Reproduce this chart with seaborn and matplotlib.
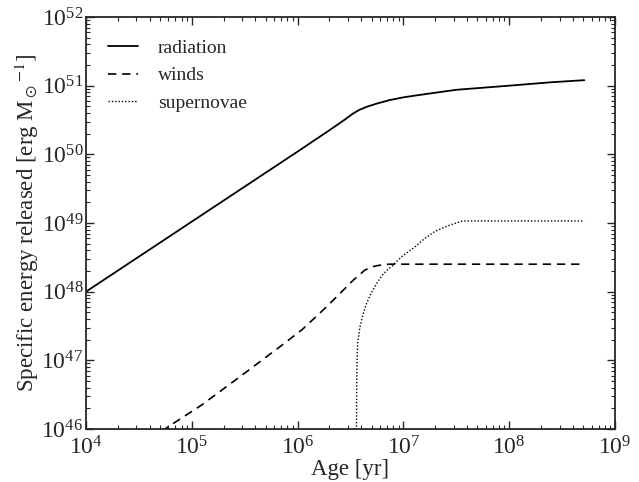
import numpy as np
import pandas as pd
import matplotlib
matplotlib.use("Agg")
import matplotlib.pyplot as plt
import seaborn as sns

# log10 values
rad_logt = [4.0, 5.0, 6.0, 6.3, 6.45, 6.52, 6.58, 6.65, 6.75, 6.87, 7.0, 7.13, 7.5, 8.0, 8.4, 8.71]
rad_loge = [48.0, 49.02, 50.04, 50.35, 50.51, 50.59, 50.645, 50.69, 50.74, 50.79, 50.83, 50.86, 50.94, 51.0, 51.05, 51.08]

wind_logt = [4.6, 4.778, 5.093, 5.518, 5.833, 6.045, 6.258, 6.338, 6.45, 6.527, 6.636, 6.70, 6.747, 6.82, 6.873, 8.71]
wind_loge = [45.85, 46.033, 46.349, 46.834, 47.198, 47.45, 47.757, 47.878, 48.05, 48.169, 48.314, 48.36, 48.377, 48.395, 48.40, 48.40]

sn_logt = [6.556, 6.558, 6.562, 6.567, 6.59, 6.62, 6.652, 6.70, 6.747, 6.80, 6.857, 6.90, 6.936,
           7.0, 7.1, 7.19, 7.3, 7.44, 7.56, 8.71]
sn_loge = [45.5, 46.5, 47.0, 47.25, 47.49, 47.68, 47.83, 47.99, 48.12, 48.24, 48.33, 48.38, 48.44,
           48.53, 48.64, 48.76, 48.88, 48.97, 49.03, 49.03]

sns.set_style("ticks")
plt.rcParams['font.family'] = ['Liberation Serif', 'DejaVu Serif']
plt.rcParams['mathtext.fontset'] = 'stix'
plt.rcParams['xtick.direction'] = 'in'
plt.rcParams['ytick.direction'] = 'in'

fig = plt.figure(figsize=(6.39, 4.82), dpi=100)
ax = fig.add_axes([0.1346, 0.110, 0.8278, 0.8547])

series = [
    ("radiation", rad_logt, rad_loge, '-', 1.3),
    ("winds", wind_logt, wind_loge, (0, (5, 3.5)), 1.2),
    ("supernovae", sn_logt, sn_loge, (0, (1, 1.4)), 1.0),
]
for name, lt, le, ls, lw in series:
    df = pd.DataFrame({'t': 10.0 ** np.array(lt), 'E': 10.0 ** np.array(le)})
    sns.lineplot(data=df, x='t', y='E', ax=ax, color='black', linestyle=ls,
                 linewidth=lw, label=name, sort=False, estimator=None)

ax.set_xscale('log')
ax.set_yscale('log')
ax.set_xlim(1e4, 1e9)
ax.set_ylim(1e46, 1e52)

ax.set_xlabel('Age [yr]', fontsize=16.5, labelpad=0)
ax.set_ylabel(r'Specific energy released [erg M$_\odot$$^{-1}$]', fontsize=16.5, labelpad=0)
ax.tick_params(axis='both', which='both', top=True, right=True, labelsize=17)
ax.tick_params(axis='x', which='major', pad=5)
ax.tick_params(axis='y', which='major', pad=2)
ax.tick_params(which='major', length=6, width=1)
ax.tick_params(which='minor', length=3, width=0.8)
for s in ax.spines.values():
    s.set_linewidth(1.3)

ax.legend(loc='upper left', frameon=False, fontsize=14, handlelength=1.5,
          handletextpad=1.05, labelspacing=0.5, borderaxespad=0.75)

fig.savefig('out.png', dpi=100)
